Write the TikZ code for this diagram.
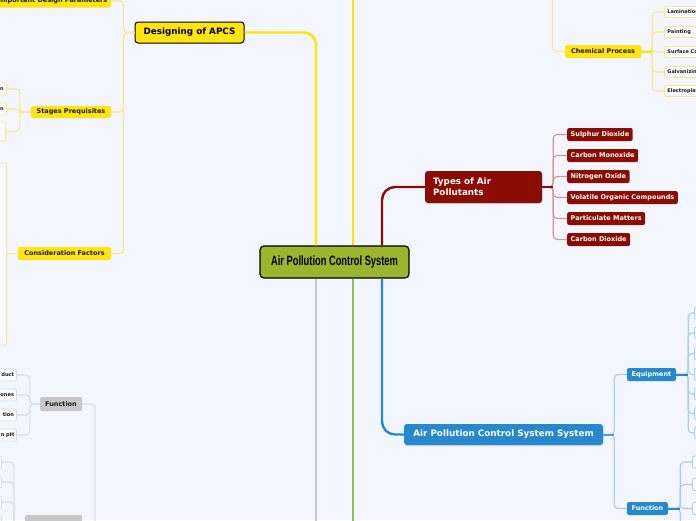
\documentclass[tikz,border=0pt]{standalone}
\usepackage{fontspec}
\setmainfont{DejaVu Sans}
\newfontfamily\condfont[FakeStretch=0.69]{Liberation Sans Bold}
\usetikzlibrary{shadows}
\definecolor{bg}{HTML}{F3F6FE}
\definecolor{mainY}{HTML}{FFE600}
\definecolor{subY}{HTML}{FBE88A}
\definecolor{boxY}{HTML}{FFE412}
\definecolor{boxR}{HTML}{8A0C02}
\definecolor{subR}{HTML}{D49696}
\definecolor{boxB}{HTML}{2789CD}
\definecolor{subB}{HTML}{A8CDEC}
\definecolor{mainG}{HTML}{8CC152}
\definecolor{mainGr}{HTML}{C9CACE}
\definecolor{subGr}{HTML}{DCDEE8}
\definecolor{boxGr}{HTML}{C8C8C8}
\definecolor{olive}{HTML}{9BB52E}
\definecolor{txt}{HTML}{1A1A1A}
\tikzset{
  mainline/.style={line width=2.4pt},
  subline/.style={line width=1.1pt, rounded corners=4pt},
  stub/.style={line width=2pt},
  bigbox/.style={rounded corners=3pt, inner sep=0pt, font=\fontsize{8.8}{10.5}\selectfont\bfseries},
  midbox/.style={rounded corners=2pt, inner sep=0pt, inner xsep=3.5pt, minimum height=13pt, font=\fontsize{6.5}{7.5}\selectfont\bfseries},
  leafY/.style={draw=subY, fill=white!60!bg, line width=0.8pt, rounded corners=2pt, inner sep=0pt, inner xsep=3pt, minimum height=11pt, text=txt, font=\fontsize{5}{6}\selectfont\bfseries},
  leafGr/.style={draw=subGr, fill=white!60!bg, line width=0.8pt, rounded corners=2pt, inner sep=0pt, inner xsep=2.5pt, minimum height=12pt, text=txt, font=\fontsize{5.1}{6}\selectfont\bfseries},
  leafB/.style={draw=subB, fill=white!60!bg, line width=0.8pt, rounded corners=2pt, inner sep=0pt, minimum height=12pt, minimum width=30pt},
  shad/.style={drop shadow={shadow xshift=0.5pt, shadow yshift=-1.2pt, opacity=0.25}}
}
\begin{document}
\begin{tikzpicture}[x=1pt,y=-1pt]
\useasboundingbox (0,0) rectangle (696,520);
\clip (0,0) rectangle (696,520);
\fill[bg] (0,0) rectangle (696,520);

% ---------- nodes ----------
\node[draw=black, line width=1.2pt, fill=olive, rounded corners=4pt, minimum width=149pt, minimum height=32pt, inner sep=0pt, font=\fontsize{13.5}{15}\selectfont\condfont] (c) at (334.5,262) {Air Pollution Control System};

\node[bigbox, draw=black, line width=1pt, fill=boxY, minimum width=109pt, minimum height=21pt] (des) at (189.5,32.5) {Designing of APCS};

\node[bigbox, fill=boxR, text=white, shad, minimum width=117pt, minimum height=32pt, text width=101pt, align=left, font=\fontsize{8.8}{11}\selectfont\bfseries] (typ) at (483.5,187) {Types of Air\\Pollutants};

\node[bigbox, fill=boxB, text=white, shad, minimum width=199pt, minimum height=21pt] (apc) at (503.5,434.5) {Air Pollution Control System System};

% yellow mid nodes
\node[midbox, fill=boxY, text=txt, anchor=east] (idp) at (111,1) {Important Design Parameters};
\node[midbox, fill=boxY, text=txt, minimum width=80pt, minimum height=12pt, inner xsep=0pt] (sp) at (71,112) {Stages Prequisites};
\node[midbox, fill=boxY, text=txt, minimum width=93pt, inner xsep=0pt] (cf) at (64.5,253.5) {Consideration Factors};
\node[midbox, fill=boxY, text=txt, minimum width=76pt, inner xsep=0pt] (chem) at (603,51.5) {Chemical Process};

% gray mid nodes
\node[midbox, fill=boxGr, text=txt, minimum width=42pt, minimum height=14pt, inner xsep=0pt] (gf) at (61,404) {Function};
\node[midbox, fill=boxGr, text=txt, minimum width=57pt, minimum height=20pt, inner xsep=0pt] (gl) at (53.5,525) {};

% blue mid nodes
\node[midbox, fill=boxB, text=white, minimum width=49pt, inner xsep=0pt] (eq) at (651.5,374.5) {Equipment};
\node[midbox, fill=boxB, text=white, minimum width=41pt, inner xsep=0pt] (bf) at (647.5,508.5) {Function};

% red children
\node[midbox, fill=boxR, text=white, anchor=west] (r1) at (567,134.5) {Sulphur Dioxide};
\node[midbox, fill=boxR, text=white, anchor=west] (r2) at (567,155.5) {Carbon Monoxide};
\node[midbox, fill=boxR, text=white, anchor=west] (r3) at (567,176.5) {Nitrogen Oxide};
\node[midbox, fill=boxR, text=white, anchor=west] (r4) at (567,197.5) {Volatile Organic Compounds};
\node[midbox, fill=boxR, text=white, anchor=west] (r5) at (567,218.5) {Particulate Matters};
\node[midbox, fill=boxR, text=white, anchor=west] (r6) at (567,239.5) {Carbon Dioxide};

% chemical process children
\node[leafY, anchor=west, minimum width=66pt, align=left, text width=60pt] (y1) at (664,12) {Lamination};
\node[leafY, anchor=west, minimum width=66pt, align=left, text width=60pt] (y2) at (664,32) {Painting};
\node[leafY, anchor=west, minimum width=66pt, align=left, text width=60pt] (y3) at (664,52) {Surface Coating};
\node[leafY, anchor=west, minimum width=66pt, align=left, text width=60pt] (y4) at (664,72) {Galvanizing};
\node[leafY, anchor=west, minimum width=66pt, align=left, text width=60pt] (y5) at (664,91) {Electroplating};

% stages children
\node[leafY, anchor=east, minimum width=40pt, minimum height=12pt, text width=34pt, align=right] (s1) at (7,89) {n};
\node[leafY, anchor=east, minimum width=40pt, minimum height=12pt, text width=34pt, align=right] (s2) at (7,109) {n};
\node[leafY, anchor=east, minimum width=40pt, minimum height=19pt] (s3) at (6,131.5) {};

% consideration child
\node[leafY, anchor=east, minimum width=40pt, minimum height=182pt] (cfl) at (7,254) {};

% gray function children
\node[leafGr, anchor=east, minimum width=50pt, text width=45pt, align=right] (g1) at (17,375) {duct};
\node[leafGr, anchor=east, minimum width=50pt, text width=45pt, align=right] (g2) at (17,395) {ones};
\node[leafGr, anchor=east, minimum width=50pt, text width=45pt, align=right] (g3) at (17,415) {tion};
\node[leafGr, anchor=east, minimum width=50pt, text width=45pt, align=right] (g4) at (17,435) {n pH};

% gray lower children
\node[leafGr, anchor=east, minimum width=30pt] (h1) at (2,462) {};
\node[leafGr, anchor=east, minimum width=30pt] (h2) at (2,482) {};
\node[leafGr, anchor=east, minimum width=30pt] (h3) at (2,502) {};
\node[leafGr, anchor=east, minimum width=30pt] (h4) at (2,522) {};

% equipment children
\node[leafB, anchor=west] (e1) at (694,313) {};
\node[leafB, anchor=west] (e2) at (694,333) {};
\node[leafB, anchor=west] (e3) at (694,353.5) {};
\node[leafB, anchor=west] (e4) at (694,374.5) {};
\node[leafB, anchor=west] (e5) at (694,394) {};
\node[leafB, anchor=west] (e6) at (694,413.5) {};
\node[leafB, anchor=west] (e7) at (694,433) {};

% blue function children
\node[leafB, anchor=west] (f1) at (692,462) {};
\node[leafB, anchor=west] (f2) at (692,484.5) {};
\node[leafB, anchor=west] (f3) at (692,508.5) {};
\node[leafB, anchor=west] (f4) at (692,532) {};

% off-canvas ends
\coordinate (ytop) at (552.5,-10);
\coordinate (gbot) at (95,540);

% ---------- main connectors ----------
\draw[mainline, mainY, rounded corners=12pt] ([xshift=-18.5pt]c.north) |- (des.east);
\draw[mainline, mainY] ([xshift=18.5pt]c.north) -- ++(0,-260);
\draw[mainline, boxR, rounded corners=13pt] ([xshift=47.5pt]c.north) |- (typ.west);
\draw[mainline, boxB, rounded corners=13pt] ([xshift=47.5pt]c.south) |- (apc.west);
\draw[mainline, mainG] ([xshift=18.5pt]c.south) -- ++(0,260);
\draw[mainline, mainGr] ([xshift=-18.5pt]c.south) -- ++(0,260);

% ---------- sub connectors ----------
% designing
\draw[subline, subY] (des.west) -- ++(-11,0) |- (idp.east);
\draw[subline, subY] (des.west) -- ++(-11,0) |- (sp.east);
\draw[subline, subY] (des.west) -- ++(-11,0) |- (cf.east);
\draw[subline, subY] (sp.west) -- ++(-11,0) |- (s1.east);
\draw[subline, subY] (sp.west) -- ++(-11,0) |- (s2.east);
\draw[subline, subY] (sp.west) -- ++(-11,0) |- (s3.east);
\draw[subline, subY] (cf.west) -- (cfl.east);
% chemical
\draw[subline, subY] (ytop) |- (chem.west);
\foreach \k in {y1,y2,y3,y4,y5} \draw[subline, subY] (chem.east) -- ++(11,0) |- (\k.west);
\draw[stub, mainY] (chem.east) -- ++(11,0);
% red
\foreach \k in {r1,r2,r3,r4,r5,r6} \draw[subline, subR] (typ.east) -- ++(11,0) |- (\k.west);
\draw[stub, boxR] (typ.east) -- ++(11,0);
% blue
\draw[subline, subB] (apc.east) -- ++(11,0) |- (eq.west);
\draw[subline, subB] (apc.east) -- ++(11,0) |- (bf.west);
\draw[stub, boxB!70!subB] (apc.east) -- ++(11,0);
\foreach \k in {e1,e2,e3,e4,e5,e6,e7} \draw[subline, subB] (eq.east) -- ++(12,0) |- (\k.west);
\draw[stub, boxB] (eq.east) -- ++(12,0);
\foreach \k in {f1,f2,f3,f4} \draw[subline, subB] (bf.east) -- ++(12,0) |- (\k.west);
\draw[stub, boxB] (bf.east) -- ++(12,0);
% gray
\foreach \k in {g1,g2,g3,g4} \draw[subline, subGr] (gf.west) -- ++(-10,0) |- (\k.east);
\draw[subline, subGr] (gf.east) -| (gbot);
\draw[subline, subGr] (gl.east) -- (gl.east -| gbot);
\foreach \k in {h1,h2,h3,h4} \draw[subline, subGr] (gl.west) -- ++(-11,0) |- (\k.east);
\end{tikzpicture}
\end{document}
